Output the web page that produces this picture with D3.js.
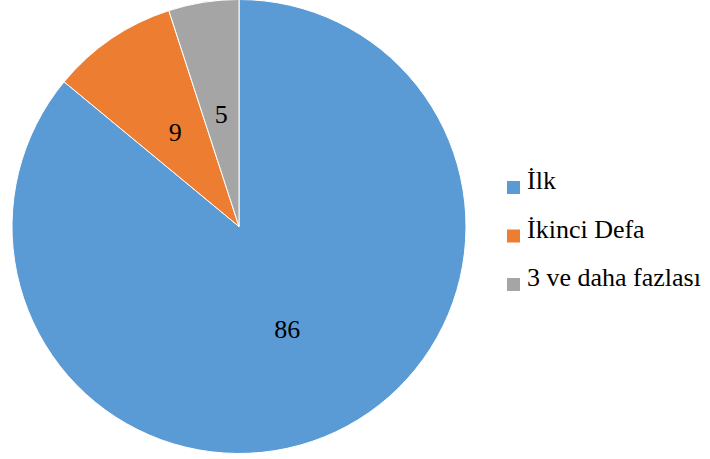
<!DOCTYPE html>
<html><head><meta charset="utf-8">
<script src="https://cdn.jsdelivr.net/npm/d3@7"></script>
<style>body{margin:0;background:#fff}svg{display:block}</style>
</head><body>
<script>
const categories = ["İlk", "İkinci Defa", "3 ve daha fazlası"];
const values = [86, 9, 5];
const colors = ["#5B9BD5", "#ED7D31", "#A5A5A5"];

const W = 710, H = 459;
const cx = 239, cy = 226.5, R = 227;
const serif = "'Liberation Serif', Tinos, 'Times New Roman', 'DejaVu Serif', serif";
const svg = d3.select("body").append("svg").attr("width", W).attr("height", H);
const g = svg.append("g").attr("transform", `translate(${cx},${cy})`);

const pie = d3.pie().sort(null).value(d => d.v);
const data = pie(categories.map((c, i) => ({c, v: values[i], col: colors[i]})));
const arc = d3.arc().innerRadius(0).outerRadius(R);
const labelArc = d3.arc().innerRadius(R * 0.5).outerRadius(R * 0.5);

g.selectAll("path").data(data).enter().append("path")
  .attr("d", arc).attr("fill", d => d.data.col)
  .attr("stroke", "#fff").attr("stroke-width", 1);

g.selectAll("text").data(data).enter().append("text")
  .attr("transform", d => `translate(${labelArc.centroid(d)})`)
  .attr("text-anchor", "middle").attr("dominant-baseline", "central")
  .style("font-family", serif)
  .style("font-size", "26px").attr("fill", "#000")
  .text(d => d.data.v);

const leg = svg.append("g").attr("transform", "translate(507,187.5)");
const rows = leg.selectAll("g").data(categories).enter().append("g")
  .attr("transform", (d, i) => `translate(0,${i * 48.5})`);
rows.append("rect").attr("x", 0).attr("y", -6.5).attr("width", 13).attr("height", 13)
  .attr("fill", (d, i) => colors[i]);
rows.append("text").attr("x", 20).attr("y", 1.5)
  .style("font-family", serif)
  .style("font-size", "26px").attr("fill", "#000").text(d => d);
</script>
</body></html>
